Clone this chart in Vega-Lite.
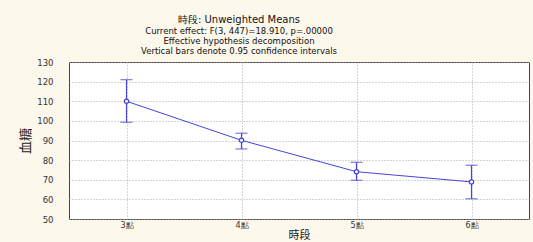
{
  "$schema": "https://vega.github.io/schema/vega-lite/v6.json",
  "autosize": {"type": "none"},
  "width": 460,
  "height": 157,
  "padding": {"left": 69, "top": 62, "right": 4, "bottom": 23},
  "background": "#fdf8ec",
  "title": {
    "text": "時段: Unweighted Means",
    "subtitle": ["Current effect: F(3, 447)=18.910, p=.00000", "Effective hypothesis decomposition", "Vertical bars denote 0.95 confidence intervals"],
    "anchor": "middle",
    "dx": -60,
    "offset": 3,
    "font": "DejaVu Sans",
    "fontSize": 10,
    "fontWeight": "normal",
    "color": "#111",
    "subtitleFont": "DejaVu Sans",
    "subtitleFontSize": 8.5,
    "subtitleColor": "#111",
    "subtitlePadding": 2,
    "subtitleLineHeight": 10
  },
  "data": {
    "values": [
      {"t": "3點", "m": 110.0, "lo": 99.3, "hi": 121.0},
      {"t": "4點", "m": 90.1, "lo": 85.7, "hi": 93.7},
      {"t": "5點", "m": 74.1, "lo": 69.7, "hi": 78.9},
      {"t": "6點", "m": 68.9, "lo": 60.3, "hi": 77.4}
    ]
  },
  "encoding": {
    "x": {
      "field": "t", "type": "ordinal", "sort": null,
      "scale": {"type": "point", "padding": 0.5},
      "axis": {"title": "時段", "labelAngle": 0, "ticks": false, "domain": false, "labelFont": "DejaVu Sans", "labelFontSize": 8, "labelColor": "#333", "labelPadding": 2, "titleFont": "Noto Sans CJK TC", "titleFontSize": 11, "titleFontWeight": "normal", "titleColor": "#222", "titlePadding": 0, "grid": true, "gridDash": [1, 2], "gridColor": "#aaa"}
    }
  },
  "layer": [
    {
      "mark": {"type": "rule", "color": "#4545d8", "strokeWidth": 1.2},
      "encoding": {
        "y": {
          "field": "lo", "type": "quantitative", "title": "血糖",
          "scale": {"domain": [50, 130], "nice": false, "zero": false}
        },
        "y2": {"field": "hi"}
      }
    },
    {
      "mark": {"type": "tick", "orient": "horizontal", "size": 12, "thickness": 1.2, "color": "#4545d8"},
      "encoding": {"y": {"field": "lo", "type": "quantitative", "title": "血糖"}}
    },
    {
      "mark": {"type": "tick", "orient": "horizontal", "size": 12, "thickness": 1.2, "color": "#4545d8"},
      "encoding": {"y": {"field": "hi", "type": "quantitative", "title": "血糖"}}
    },
    {
      "mark": {"type": "line", "color": "#4545d8", "strokeWidth": 1, "point": {"filled": false, "fill": "white", "stroke": "#4545d8", "size": 18, "strokeWidth": 1.2}},
      "encoding": {
        "y": {"field": "m", "type": "quantitative", "title": "血糖"}
      }
    }
  ],
  "config": {
    "view": {"stroke": "#444", "strokeWidth": 1, "fill": "white"},
    "axisY": {"tickCount": 9, "ticks": false, "domain": false, "labelFont": "DejaVu Sans", "labelFontSize": 8.5, "labelColor": "#333", "labelPadding": 16, "labelOverlap": false, "titleFont": "Noto Sans CJK TC", "titleFontSize": 13, "titleFontWeight": "normal", "titleColor": "#222", "titlePadding": 4, "grid": true, "gridDash": [1, 2], "gridColor": "#aaa"}
  }
}
